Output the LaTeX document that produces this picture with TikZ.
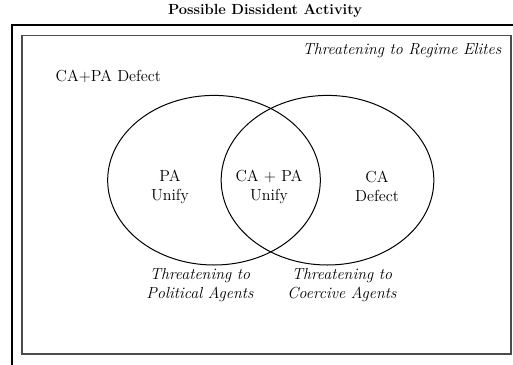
\documentclass[tikz,border=0pt]{standalone}
\usetikzlibrary{shapes.geometric}
\begin{document}
\begin{tikzpicture}[x=0.75pt,y=-0.75pt,
  venn/.style={draw,ellipse,line width=0.75pt,inner sep=0pt,minimum width=159.5pt,minimum height=127.2pt},
  lbl/.style={align=center,font=\fontsize{12}{14.2}\selectfont},
  ilbl/.style={align=center,font=\fontsize{12}{14.2}\selectfont\itshape}]
\useasboundingbox (0,0) rectangle (513,364);
\clip (0,0) rectangle (513,364);
\node[font=\fontsize{11}{13}\selectfont\bfseries] (title) at (265,11) {Possible Dissident Activity};
\draw[line width=1.1pt] (12,380) -- (12,25) -- (530,25);
\draw[line width=0.8pt,black!70] (22,35.5) rectangle (511,354);
\node[ilbl,anchor=east] (elites) at (506,51) {Threatening to Regime Elites};
\node[lbl,anchor=west] (defect) at (51,76) {CA+PA Defect};
\node[venn] (pa) at (214,180.2) {};
\node[venn] (ca) at (327.5,180.2) {};
\node[lbl] (paunify) at (170,186.5) {PA\\Unify};
\node[lbl] (both) at (269,186.5) {CA + PA\\Unify};
\node[lbl] (cadefect) at (377,186.5) {CA\\Defect};
\node[ilbl] (pol) at (200,285.5) {Threatening to\\Political Agents};
\node[ilbl] (coer) at (342,285.5) {Threatening to\\Coercive Agents};
\end{tikzpicture}
\end{document}
